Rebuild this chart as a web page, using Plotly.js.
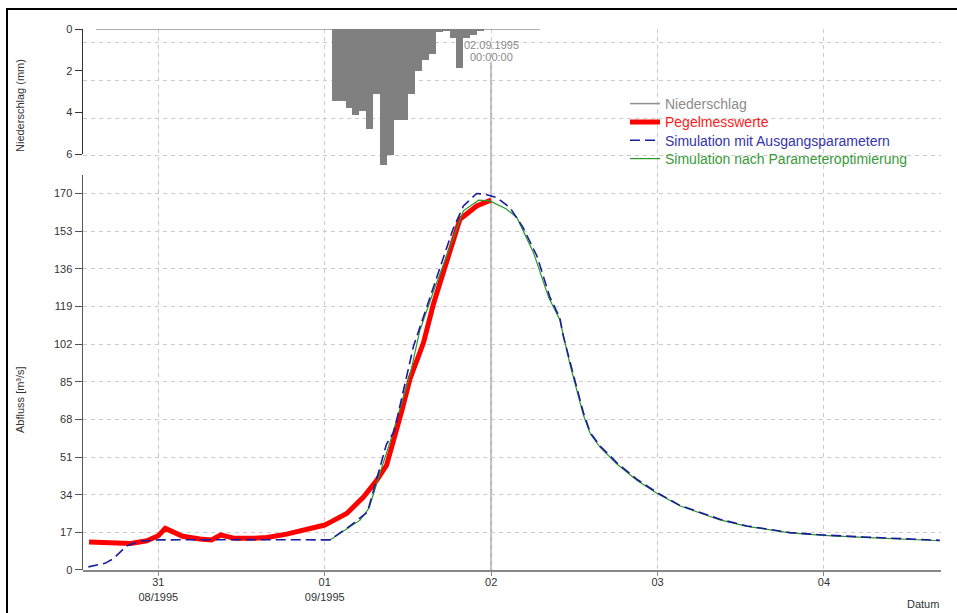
<!DOCTYPE html>
<html>
<head>
<meta charset="utf-8">
<script src="https://cdn.plot.ly/plotly-3.0.1.min.js"></script>
<style>
  html, body { margin: 0; padding: 0; background: #fff; }
  #wrap { position: relative; width: 957px; height: 613px; overflow: hidden; }
  #chart { width: 957px; height: 613px; }
  #frame { position: absolute; left: 6px; top: 8px; right: 0; bottom: -4px;
           border-top: 2px solid #000; border-left: 2px solid #000; pointer-events: none; }
</style>
</head>
<body>
<div id="wrap"><div id="chart"></div><div id="frame"></div></div>
<script>
// ---------- data ----------
const precipPeriod = ['1995-08-30 15:00', '1995-09-02 07:00'];
const precipBaseline = [0, 0];
const precipHours = ['1995-09-01 01:00','1995-09-01 02:00','1995-09-01 03:00','1995-09-01 04:00',
  '1995-09-01 05:00','1995-09-01 06:00','1995-09-01 07:00','1995-09-01 08:00','1995-09-01 09:00',
  '1995-09-01 10:00','1995-09-01 11:00','1995-09-01 12:00','1995-09-01 13:00','1995-09-01 14:00',
  '1995-09-01 15:00','1995-09-01 16:00','1995-09-01 17:00','1995-09-01 18:00','1995-09-01 19:00',
  '1995-09-01 20:00','1995-09-01 21:00','1995-09-01 22:00'];
const precipMm = [3.46,3.46,3.78,4.11,3.94,4.77,3.09,6.5,6.02,4.34,4.34,3.12,2.03,1.5,1.2,0.16,0.11,0.45,1.89,0.45,0.29,0.08];

const pegelTime = ['1995-08-30 14:00','1995-08-30 17:30','1995-08-30 20:00','1995-08-30 22:20','1995-08-31 00:00',
  '1995-08-31 01:00','1995-08-31 02:10','1995-08-31 03:30','1995-08-31 06:00','1995-08-31 07:40','1995-08-31 09:00',
  '1995-08-31 10:00','1995-08-31 11:00','1995-08-31 13:40','1995-08-31 15:40','1995-08-31 18:30','1995-08-31 21:30',
  '1995-09-01 00:00','1995-09-01 00:45','1995-09-01 03:10','1995-09-01 05:35','1995-09-01 07:30','1995-09-01 08:55',
  '1995-09-01 09:55','1995-09-01 11:05','1995-09-01 12:20','1995-09-01 14:15','1995-09-01 15:40','1995-09-01 16:50',
  '1995-09-01 19:30','1995-09-01 21:55','1995-09-02 00:00'];
const pegelQ = [12.7,12.5,12.0,13.2,15.5,18.8,17.3,15.2,14.0,13.6,15.8,15.2,14.3,14.3,14.7,16.2,18.5,
  20.3,21.5,25.5,32.9,40.5,47.3,57.9,71.5,86.7,102.7,120,131.3,158.4,164.4,167.1];

const simATime = ['1995-08-30 13:54','1995-08-30 16:18','1995-08-30 17:30','1995-08-30 19:24','1995-08-30 21:24',
  '1995-08-31 00:00','1995-08-31 12:00','1995-09-01 00:45','1995-09-01 03:39','1995-09-01 06:04','1995-09-01 06:24',
  '1995-09-01 07:30','1995-09-01 08:54','1995-09-01 09:54','1995-09-01 10:24','1995-09-01 12:48','1995-09-01 15:42',
  '1995-09-01 17:06','1995-09-01 18:30','1995-09-01 20:00','1995-09-01 21:54','1995-09-01 23:06','1995-09-02 00:48',
  '1995-09-02 02:42','1995-09-02 04:36','1995-09-02 06:36','1995-09-02 08:30','1995-09-02 09:54','1995-09-02 10:24',
  '1995-09-02 11:24','1995-09-02 12:18','1995-09-02 13:18','1995-09-02 14:18','1995-09-02 15:42','1995-09-02 18:06',
  '1995-09-02 21:00','1995-09-02 23:54','1995-09-03 03:12','1995-09-03 09:00','1995-09-03 12:54','1995-09-03 19:06',
  '1995-09-03 23:54','1995-09-04 05:42','1995-09-04 10:30','1995-09-04 16:42'];
const simAQ = [1.4,3.0,5.1,10.8,13.1,13.6,13.7,13.6,19.9,25.9,28.9,41,56.8,62,68,101,128,140.3,153.9,164.4,
  170,169.7,168.2,163.7,154.7,141.8,123,114,105.7,93.7,83.1,71.1,62,56,48.5,41,35,29.2,22.9,19.9,16.9,15.8,14.9,14.2,13.4];

const simBTime = ['1995-09-01 00:45','1995-09-01 03:12','1995-09-01 05:06','1995-09-01 06:24','1995-09-01 07:30',
  '1995-09-01 08:27','1995-09-01 09:24','1995-09-01 12:18','1995-09-01 13:42','1995-09-01 15:42','1995-09-01 20:00',
  '1995-09-01 22:12','1995-09-01 23:48','1995-09-02 02:12','1995-09-02 03:42','1995-09-02 06:06','1995-09-02 08:18',
  '1995-09-02 09:54','1995-09-02 11:24','1995-09-02 12:18','1995-09-02 13:18','1995-09-02 14:18','1995-09-02 15:42',
  '1995-09-02 18:06','1995-09-02 21:00','1995-09-02 23:54','1995-09-03 03:12','1995-09-03 09:00','1995-09-03 12:54',
  '1995-09-03 19:06','1995-09-03 23:54','1995-09-04 05:42','1995-09-04 10:30','1995-09-04 16:42'];
const simBQ = [13.6,18.4,22.5,28,39.5,48.5,57.5,88,108,126,162.2,167,166.7,163,159.2,143.4,123,113,
  92.5,82,70,61.5,55.5,48,40.5,34.7,29,22.6,19.7,16.8,15.6,14.7,14.0,13.2];

const dayTicks = ['1995-08-31','1995-09-01','1995-09-02','1995-09-03','1995-09-04'];
const dayTickText = ['31<br>08/1995','01<br>09/1995','02','03','04'];
const qTicks = [0,17,34,51,68,85,102,119,136,153,170];
const pTicks = [0,2,4,6];
const cursorTime = '1995-09-02 00:00';
const cursorLabel = ['02.09.1995','00:00:00'];
const xRange = ['1995-08-30 13:08','1995-09-04 16:53'];

// ---------- styling ----------
const FONT = 'Arial, "Liberation Sans", sans-serif';
const H_PLOT = 541;             // plot height in px (613 - 29 - 43)
const yFullTop = 244.3;         // full-height grid axis range top
const yMainTop = 178.4;         // labelled discharge axis range top
const yMainDomTop = 0.7301;
const yPrecDom = [0.7684, 1];   // labelled precipitation axis: 0..6
const yBarDom = [0.7453, 1];    // same scale, extended to 6.6 so deep bars are not clipped
const yBarTop = 6.6;

const traces = [
  { // precipitation bars
    type: 'bar', x: precipHours, y: precipMm, xaxis: 'x2', yaxis: 'y4',
    width: 3600000, offset: 0, marker: {color: '#808080', line: {width: 0}},
    showlegend: false, hoverinfo: 'skip'
  },
  { // precipitation baseline + legend entry
    type: 'scatter', mode: 'lines', x: precipPeriod, y: precipBaseline, xaxis: 'x2', yaxis: 'y2',
    name: 'Niederschlag', line: {color: '#909090', width: 1.5}, cliponaxis: false,
    legend: 'legend', hoverinfo: 'skip'
  },
  {
    type: 'scatter', mode: 'lines', x: pegelTime, y: pegelQ, xaxis: 'x', yaxis: 'y',
    name: 'Pegelmesswerte', line: {color: '#ff0000', width: 5}, legend: 'legend2', hoverinfo: 'skip'
  },
  {
    type: 'scatter', mode: 'lines', x: simBTime, y: simBQ, xaxis: 'x', yaxis: 'y',
    name: 'Simulation nach Parameteroptimierung', line: {color: '#2a982a', width: 1.2},
    legend: 'legend4', hoverinfo: 'skip'
  },
  {
    type: 'scatter', mode: 'lines', x: simATime, y: simAQ, xaxis: 'x', yaxis: 'y',
    name: 'Simulation mit Ausgangsparametern', line: {color: '#1c1c9c', width: 1.6, dash: '10px,5px'},
    legend: 'legend3', hoverinfo: 'skip'
  },
  { // empty trace to host the labelled discharge axis
    type: 'scatter', mode: 'lines', x: [], y: [], xaxis: 'x3', yaxis: 'y3', showlegend: false, hoverinfo: 'skip'
  }
];

function legendAt(yPx, color) {
  return {
    x: (625 - 83) / 858, xanchor: 'left', y: (570 - yPx) / H_PLOT, yanchor: 'middle',
    bgcolor: 'rgba(0,0,0,0)', borderwidth: 0, font: {family: FONT, size: 14, color: color}
  };
}

const layout = {
  width: 957, height: 613,
  margin: {l: 83, r: 16, t: 29, b: 43, pad: 0},
  paper_bgcolor: '#ffffff', plot_bgcolor: 'rgba(0,0,0,0)',
  font: {family: FONT, size: 11, color: '#333333'},
  showlegend: true, hovermode: false,
  bargap: 0,
  xaxis: {
    type: 'date', range: xRange, anchor: 'y',
    tickmode: 'array', tickvals: dayTicks, ticktext: dayTickText,
    ticks: 'outside', ticklen: 4, tickcolor: '#888888', tickwidth: 1,
    ticklabelstandoff: -3,
    tickfont: {family: FONT, size: 11, color: '#333333'},
    showline: true, linecolor: '#888888', linewidth: 2,
    showgrid: true, gridcolor: '#cccccc', griddash: '4px,4px', gridwidth: 1,
    zeroline: false, fixedrange: true
  },
  yaxis: { // full height, grid only
    domain: [0, 1], range: [0, yFullTop], anchor: 'x',
    tickmode: 'linear', tick0: 0, dtick: 17,
    showgrid: true, gridcolor: '#cccccc', griddash: '4px,4px', gridwidth: 1,
    showticklabels: false, ticks: '', showline: false, zeroline: false, fixedrange: true
  },
  xaxis2: {
    type: 'date', matches: 'x', anchor: 'y2', showgrid: false, showline: false,
    showticklabels: false, ticks: '', zeroline: false, fixedrange: true
  },
  yaxis2: {
    domain: yPrecDom, range: [6, 0], anchor: 'x2',
    tickmode: 'array', tickvals: pTicks,
    ticks: 'outside', ticklen: 7, tickcolor: '#333333', tickwidth: 1,
    tickfont: {family: FONT, size: 11, color: '#333333'},
    showline: true, linecolor: '#333333', linewidth: 1.5,
    showgrid: false, zeroline: false, fixedrange: true
  },
  yaxis4: {
    domain: yBarDom, range: [yBarTop, 0], anchor: 'x2', visible: false,
    showgrid: false, zeroline: false, fixedrange: true
  },
  xaxis3: {
    type: 'date', matches: 'x', anchor: 'y3', showgrid: false, showline: false,
    showticklabels: false, ticks: '', zeroline: false, fixedrange: true
  },
  yaxis3: {
    domain: [0, yMainDomTop], range: [0, yMainTop], anchor: 'x3',
    tickmode: 'array', tickvals: qTicks,
    ticks: 'outside', ticklen: 7, tickcolor: '#555555', tickwidth: 1,
    tickfont: {family: FONT, size: 11, color: '#333333'},
    showline: true, linecolor: '#555555', linewidth: 1.5,
    showgrid: false, zeroline: false, fixedrange: true
  },
  legend: legendAt(104, '#8c8c8c'),
  legend2: legendAt(122.3, '#ff1a1a'),
  legend3: legendAt(140.7, '#3434a8'),
  legend4: legendAt(159, '#3a9a3a'),
  shapes: [{
    type: 'line', xref: 'x', yref: 'paper', x0: cursorTime, x1: cursorTime,
    y0: 0, y1: (570 - 62) / H_PLOT, line: {color: '#b4b4b4', width: 2}, layer: 'below'
  }],
  annotations: [
    {xref: 'x', yref: 'paper', x: cursorTime, y: (570 - 45) / H_PLOT, text: cursorLabel[0],
     showarrow: false, xanchor: 'center', yanchor: 'middle', font: {family: FONT, size: 11, color: '#8a8a8a'}},
    {xref: 'x', yref: 'paper', x: cursorTime, y: (570 - 57) / H_PLOT, text: cursorLabel[1],
     showarrow: false, xanchor: 'center', yanchor: 'middle', font: {family: FONT, size: 11, color: '#8a8a8a'}},
    {xref: 'paper', yref: 'paper', x: (20 - 83) / 858, y: (570 - 106) / H_PLOT, text: 'Niederschlag (mm)',
     textangle: -90, showarrow: false, xanchor: 'center', yanchor: 'middle',
     font: {family: FONT, size: 11, color: '#333333'}},
    {xref: 'paper', yref: 'paper', x: (20 - 83) / 858, y: (570 - 400) / H_PLOT, text: 'Abfluss [m³/s]',
     textangle: -90, showarrow: false, xanchor: 'center', yanchor: 'middle',
     font: {family: FONT, size: 11, color: '#333333'}},
    {xref: 'paper', yref: 'paper', x: 1, y: (570 - 604) / H_PLOT, text: 'Datum',
     showarrow: false, xanchor: 'right', yanchor: 'middle',
     font: {family: FONT, size: 11, color: '#333333'}}
  ]
};

Plotly.newPlot('chart', traces, layout, {displayModeBar: false, staticPlot: true});
</script>
</body>
</html>
